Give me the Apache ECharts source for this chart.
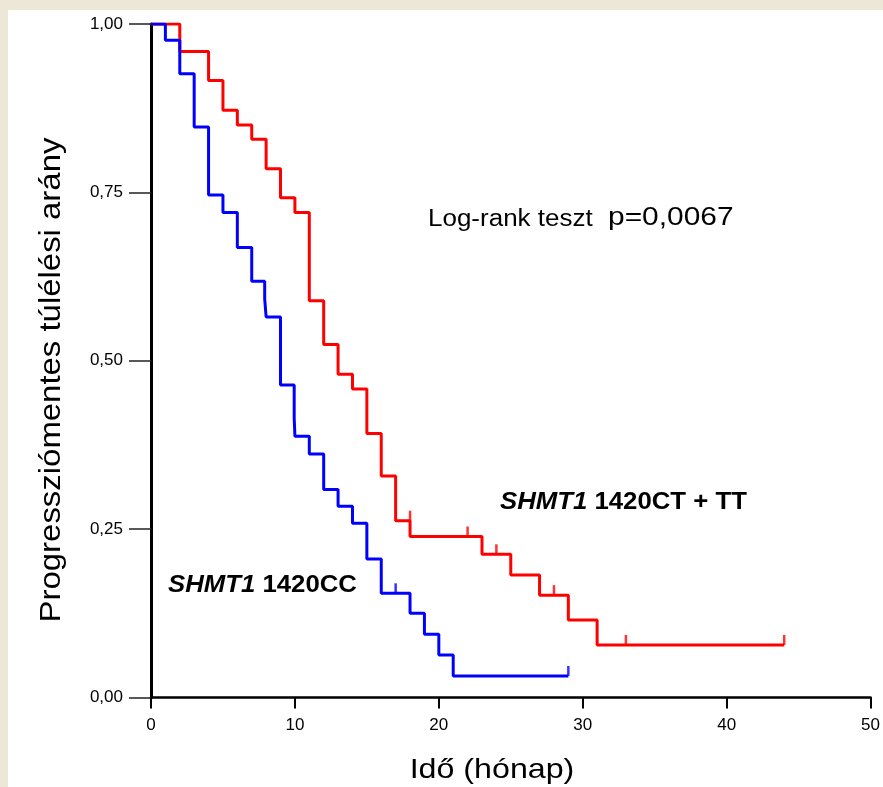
<!DOCTYPE html>
<html>
<head>
<meta charset="utf-8">
<script src="https://cdn.jsdelivr.net/npm/echarts@6/dist/echarts.min.js"></script>
<style>
  html, body { margin: 0; padding: 0; background: #ede7d8; }
  #chart { width: 883px; height: 787px; }
</style>
</head>
<body>
<div id="chart"></div>
<script>
// SHMT1 1420CC (kék)
let timeCC = [0, 1, 2, 3, 4, 5, 6, 7, 7.9, 8, 9, 9.95, 10, 11, 12, 13, 14, 15, 16, 18, 19, 20, 21, 29];
let survCC = [1, 0.976, 0.926, 0.847, 0.746, 0.720, 0.668, 0.618, 0.592, 0.565, 0.464, 0.415, 0.388, 0.3615, 0.309, 0.284, 0.2586, 0.2056, 0.1547, 0.125, 0.094, 0.063, 0.032, 0.032];
let censTimeCC = [17, 29];
let censSurvCC = [0.1547, 0.032];

// SHMT1 1420CT + TT (piros)
let timeCT = [0, 2, 4, 5, 6, 7, 8, 9, 10, 11, 12, 13, 14, 15, 16, 17, 18, 23, 25, 27, 29, 31, 44];
let survCT = [1, 0.959, 0.916, 0.872, 0.850, 0.829, 0.785, 0.742, 0.720, 0.589, 0.524, 0.480, 0.458, 0.392, 0.329, 0.2625, 0.239, 0.2126, 0.182, 0.152, 0.115, 0.078, 0.078];
let censTimeCT = [18, 22, 24, 28, 33, 44];
let censSurvCT = [0.2625, 0.239, 0.2126, 0.152, 0.078, 0.078];

let xTicks = [0, 10, 20, 30, 40, 50];
let yTicks = [0, 0.25, 0.5, 0.75, 1];

function pairs(xs, ys) {
    let out = [];
    for (let i = 0; i < xs.length; i++) out.push([xs[i], ys[i]]);
    return out;
}

let font = '"Liberation Sans", Arial, sans-serif';
let stretch = 1.13; // az eredeti kép vízszintesen kissé nyújtott

let censorStyle = function (color) {
    return {
        type: 'scatter',
        symbol: 'rect',
        symbolSize: [2.5, 10],
        symbolOffset: [0, -5],
        itemStyle: { color: color },
        silent: true,
        z: 4
    };
};

let chart = echarts.init(document.getElementById('chart'));
let option = {
    animation: false,
    backgroundColor: '#ede7d8',
    grid: { left: 151, top: 24, width: 728, height: 673.5 },
    xAxis: {
        type: 'value',
        min: xTicks[0],
        max: xTicks[xTicks.length - 1],
        interval: 10,
        splitLine: { show: false },
        axisLine: { onZero: false, lineStyle: { color: '#000', width: 2.5 } },
        axisTick: { length: 11, lineStyle: { color: '#000', width: 2 } },
        axisLabel: { color: '#000', fontSize: 17, fontFamily: font, margin: 19 }
    },
    yAxis: {
        type: 'value',
        min: yTicks[0],
        max: yTicks[yTicks.length - 1],
        interval: 0.25,
        splitLine: { show: false },
        axisLine: { lineStyle: { color: '#000', width: 3 } },
        axisTick: { length: 22, lineStyle: { color: '#222', width: 1.5 } },
        axisLabel: {
            color: '#000', fontSize: 17, fontFamily: font, margin: 28,
            formatter: function (v) { return v.toFixed(2).replace('.', ','); }
        }
    },
    graphic: [
        { type: 'rect', z: -10, shape: { x: 8, y: 10, width: 875, height: 777 }, style: { fill: '#fff' } },
        {
            type: 'text', x: 428, y: 220, scaleX: stretch,
            style: { text: 'Log-rank teszt', font: '23px ' + font, fill: '#000', verticalAlign: 'middle' }
        },
        {
            type: 'text', x: 608, y: 218, scaleX: 1.15,
            style: { text: 'p=0,0067', font: '26px ' + font, fill: '#000', verticalAlign: 'middle' }
        },
        {
            type: 'text', x: 500, y: 503, scaleX: 1.12,
            style: {
                text: '{i|SHMT1} 1420CT + TT',
                font: 'bold 23px ' + font, fill: '#000', verticalAlign: 'middle',
                rich: { i: { fontStyle: 'italic', fontWeight: 'bold', fontSize: 23, fontFamily: font } }
            }
        },
        {
            type: 'text', x: 168, y: 586, scaleX: 1.12,
            style: {
                text: '{i|SHMT1} 1420CC',
                font: 'bold 23px ' + font, fill: '#000', verticalAlign: 'middle',
                rich: { i: { fontStyle: 'italic', fontWeight: 'bold', fontSize: 23, fontFamily: font } }
            }
        },
        {
            type: 'text', x: 492, y: 770, scaleX: 1.15,
            style: { text: 'Idő (hónap)', font: '28px ' + font, fill: '#000', align: 'center', verticalAlign: 'middle' }
        },
        {
            type: 'text', x: 52, y: 380, rotation: Math.PI / 2, scaleX: 1.135,
            style: { text: 'Progressziómentes túlélési arány', font: '29px ' + font, fill: '#000', align: 'center', verticalAlign: 'middle' }
        }
    ],
    series: [
        {
            type: 'line', step: 'end', showSymbol: false, z: 2,
            data: pairs(timeCT, survCT),
            lineStyle: { color: '#ff0000', width: 3 }
        },
        {
            type: 'line', step: 'end', showSymbol: false, z: 3,
            data: pairs(timeCC, survCC),
            lineStyle: { color: '#0000ff', width: 3 }
        },
        Object.assign(censorStyle('#ff0000'), { data: pairs(censTimeCT, censSurvCT) }),
        Object.assign(censorStyle('#0000ff'), { data: pairs(censTimeCC, censSurvCC) })
    ]
};
chart.setOption(option);
</script>
</body>
</html>
